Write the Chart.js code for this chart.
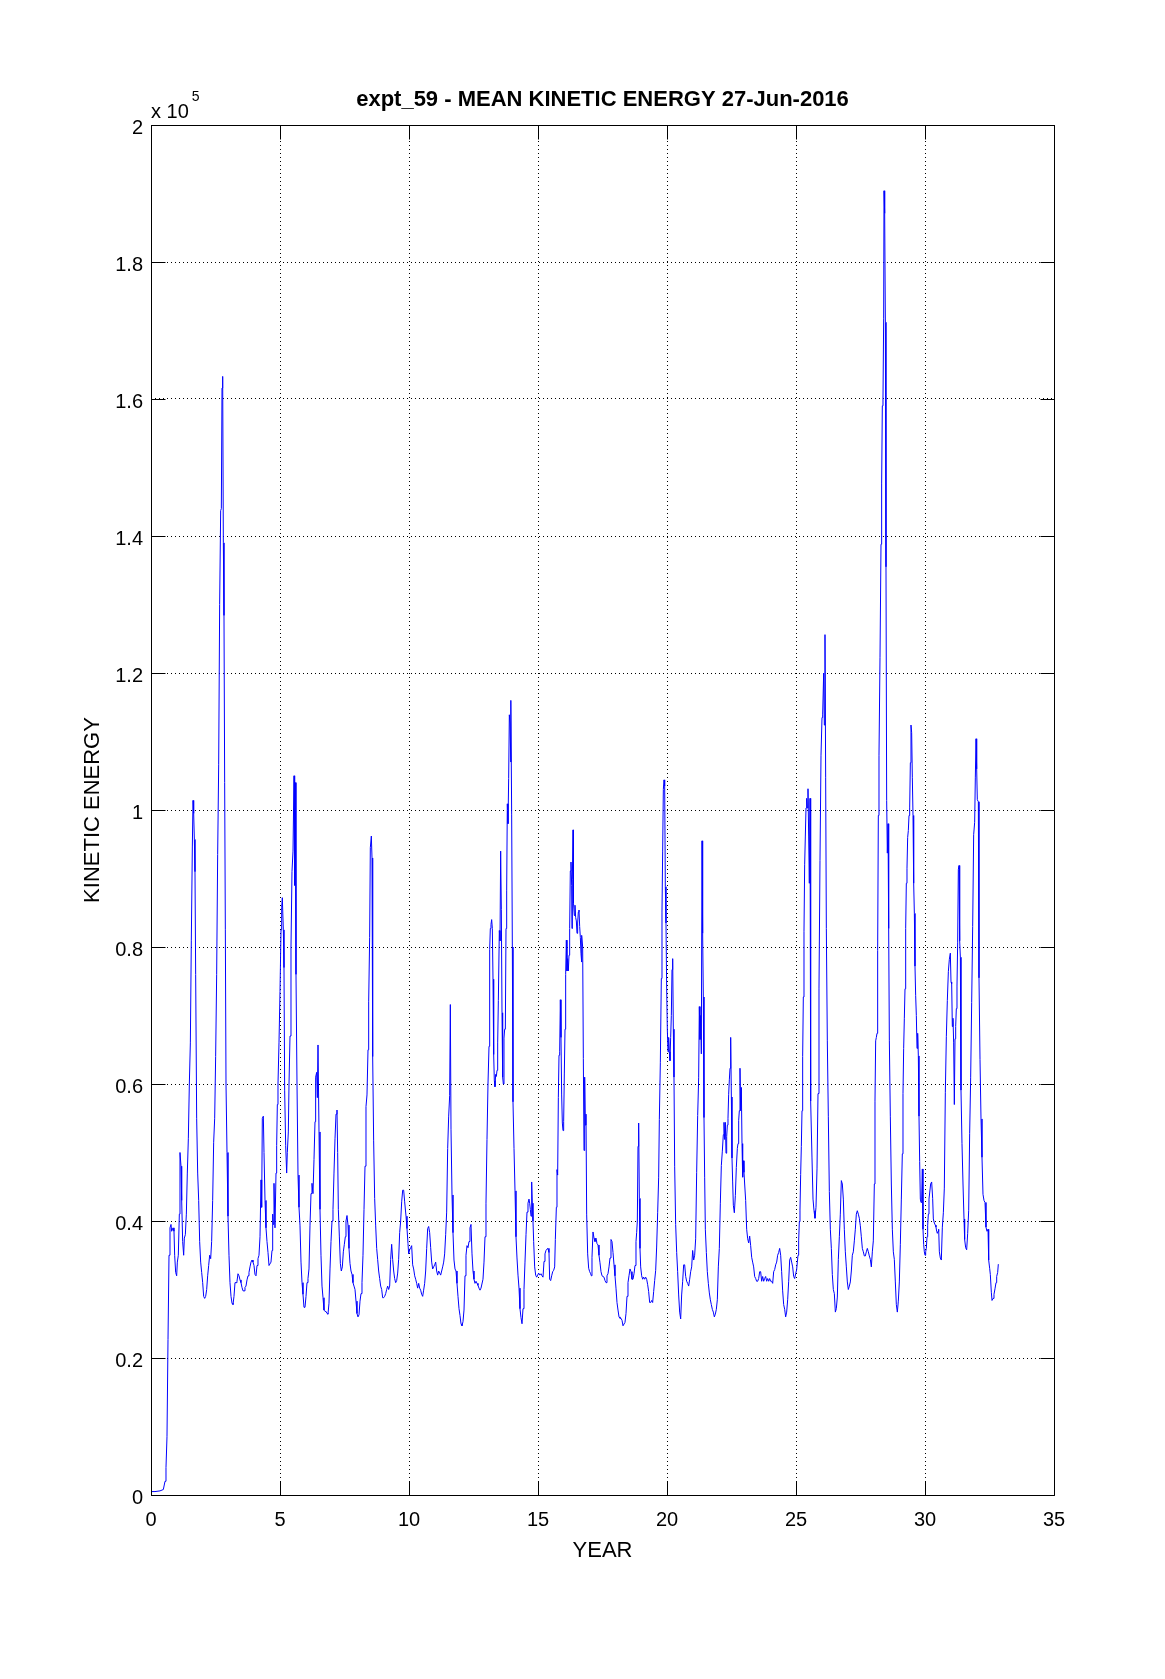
<!DOCTYPE html>
<html>
<head>
<meta charset="utf-8">
<title>expt_59 - MEAN KINETIC ENERGY</title>
<script src="https://cdn.jsdelivr.net/npm/chart.js@4/dist/chart.umd.min.js"></script>
<style>
    html, body { margin: 0; padding: 0; background: #ffffff; }
</style>
</head>
<body>
<canvas id="chartKE" width="1165" height="1679"></canvas>
<script>
// model year of each sample
const years = [
    0.000, 0.155, 0.349, 0.478, 0.543, 0.581, 0.620, 0.659, 0.698, 0.736,
    0.775, 0.801, 0.853, 0.891, 0.917, 0.956, 0.995, 1.021, 1.059, 1.098,
    1.124, 1.163, 1.189, 1.227, 1.266, 1.292, 1.331, 1.370, 1.408, 1.447,
    1.486, 1.525, 1.563, 1.602, 1.628, 1.654, 1.680, 1.705, 1.731, 1.770,
    1.809, 1.848, 1.886, 1.925, 1.964, 2.003, 2.041, 2.080, 2.119, 2.158,
    2.196, 2.235, 2.274, 2.313, 2.351, 2.390, 2.429, 2.468, 2.506, 2.545,
    2.584, 2.623, 2.661, 2.700, 2.726, 2.752, 2.778, 2.804, 2.829, 2.855,
    2.881, 2.907, 2.946, 2.984, 3.023, 3.062, 3.101, 3.140, 3.178, 3.217,
    3.256, 3.295, 3.333, 3.372, 3.411, 3.450, 3.488, 3.527, 3.566, 3.605,
    3.643, 3.682, 3.721, 3.760, 3.798, 3.837, 3.876, 3.915, 3.953, 3.992,
    4.031, 4.070, 4.109, 4.147, 4.186, 4.225, 4.264, 4.289, 4.315, 4.354,
    4.380, 4.419, 4.457, 4.496, 4.535, 4.574, 4.612, 4.651, 4.690, 4.716,
    4.742, 4.767, 4.806,
    4.845, 4.871, 4.897, 4.922, 4.961, 5.000, 5.039, 5.065, 5.090, 5.129,
    5.155, 5.181, 5.220, 5.258, 5.284, 5.323, 5.349, 5.388, 5.426, 5.465,
    5.504, 5.543, 5.568, 5.594, 5.620, 5.659, 5.698, 5.736, 5.775, 5.814,
    5.853, 5.891, 5.930, 5.969, 6.008, 6.047, 6.085, 6.124, 6.163, 6.202,
    6.240, 6.279, 6.318, 6.357, 6.382, 6.421, 6.447, 6.473, 6.512, 6.550,
    6.589, 6.628, 6.667, 6.705, 6.744, 6.783, 6.822, 6.860, 6.899, 6.938,
    6.977, 7.016, 7.054, 7.093, 7.132, 7.171, 7.209, 7.235, 7.261, 7.300,
    7.339, 7.377, 7.416, 7.455, 7.494, 7.532, 7.558, 7.597, 7.636, 7.674,
    7.713, 7.752, 7.791, 7.829, 7.868, 7.907, 7.946, 7.984, 8.023, 8.062,
    8.101, 8.140, 8.178, 8.217, 8.256, 8.295, 8.333, 8.372, 8.411, 8.437,
    8.475, 8.501, 8.540, 8.566, 8.592, 8.630, 8.669, 8.708, 8.747, 8.785,
    8.824, 8.863, 8.902, 8.941, 8.979, 9.018, 9.057, 9.096, 9.134, 9.173,
    9.212, 9.251, 9.289, 9.328, 9.367, 9.406, 9.444, 9.483, 9.522, 9.561,
    9.599, 9.638, 9.677, 9.716, 9.755, 9.793, 9.832,
    9.884, 9.922, 9.961, 9.987, 10.026, 10.065, 10.103, 10.142, 10.181, 10.220,
    10.258, 10.297, 10.336, 10.375, 10.413, 10.452, 10.491, 10.530, 10.568, 10.607,
    10.646, 10.685, 10.724, 10.762, 10.801, 10.840, 10.879, 10.917, 10.956, 10.995,
    11.034, 11.072, 11.111, 11.150, 11.189, 11.227, 11.266, 11.305, 11.344, 11.382,
    11.421, 11.460, 11.499, 11.537, 11.576, 11.602, 11.628, 11.667, 11.705, 11.744,
    11.783, 11.822, 11.860, 11.899, 11.938, 11.977, 12.016, 12.054, 12.093, 12.132,
    12.171, 12.209, 12.248, 12.287, 12.326, 12.364, 12.403, 12.442, 12.481, 12.519,
    12.558, 12.597, 12.636, 12.674, 12.713, 12.752, 12.791, 12.829, 12.868, 12.907,
    12.946, 12.984, 13.023, 13.062, 13.101, 13.127, 13.152, 13.178, 13.204, 13.230,
    13.256, 13.282, 13.307, 13.333, 13.359, 13.385, 13.411, 13.437, 13.463, 13.501,
    13.527, 13.553, 13.579, 13.605, 13.630, 13.656, 13.682, 13.708, 13.734, 13.760,
    13.786, 13.811, 13.837, 13.863, 13.889, 13.915, 13.941, 13.953, 13.979, 14.005,
    14.031, 14.070, 14.109, 14.147, 14.186, 14.225, 14.264, 14.302, 14.341, 14.380,
    14.419, 14.457, 14.496, 14.535, 14.574, 14.612, 14.651, 14.677, 14.703, 14.729,
    14.755, 14.780, 14.806, 14.832, 14.871, 14.910, 14.948, 14.987, 15.026, 15.065,
    15.116, 15.155, 15.194, 15.233, 15.271, 15.310, 15.349, 15.388, 15.426, 15.452,
    15.491, 15.530, 15.569, 15.607, 15.646, 15.672, 15.711, 15.736, 15.762, 15.788,
    15.814, 15.840, 15.866, 15.891, 15.917, 15.943, 15.969, 15.995, 16.021, 16.047,
    16.072, 16.098, 16.124, 16.150, 16.176, 16.202, 16.227, 16.253, 16.279, 16.305,
    16.318, 16.331, 16.357, 16.370, 16.382, 16.408, 16.434, 16.460, 16.486, 16.512,
    16.537, 16.563, 16.589, 16.615, 16.641, 16.667, 16.680, 16.705, 16.731, 16.757,
    16.783, 16.809, 16.835, 16.860, 16.886, 16.925, 16.964, 17.003, 17.041, 17.067,
    17.093, 17.132, 17.171, 17.209, 17.248, 17.287, 17.326, 17.364, 17.403, 17.442,
    17.481, 17.519, 17.558, 17.597, 17.636, 17.674, 17.713, 17.752, 17.791, 17.829,
    17.868, 17.907, 17.946, 17.984, 18.023, 18.062, 18.101, 18.140, 18.178, 18.217,
    18.256, 18.295, 18.333, 18.372, 18.411, 18.450, 18.488, 18.527, 18.566, 18.605,
    18.643, 18.682, 18.721, 18.760, 18.798, 18.824, 18.850, 18.876, 18.902, 18.928,
    18.953, 18.979, 19.018, 19.057, 19.096, 19.134, 19.173, 19.212, 19.251, 19.289,
    19.328, 19.367, 19.406, 19.444, 19.483, 19.522, 19.561, 19.599, 19.638, 19.677,
    19.703, 19.742, 19.780, 19.806, 19.832, 19.858, 19.884, 19.910, 19.935, 19.961,
    19.987, 20.013, 20.039, 20.065, 20.090, 20.116, 20.142, 20.168, 20.194, 20.220,
    20.245, 20.271, 20.297,
    20.336, 20.375, 20.413, 20.452, 20.491, 20.530, 20.568, 20.607, 20.646, 20.685,
    20.724, 20.762, 20.801, 20.840, 20.879, 20.917, 20.956, 20.995, 21.034, 21.072,
    21.111, 21.150, 21.189, 21.227, 21.253, 21.279, 21.305, 21.331, 21.357, 21.382,
    21.408, 21.434, 21.460, 21.486, 21.525, 21.563, 21.602, 21.641, 21.680, 21.718,
    21.757, 21.796, 21.835, 21.873, 21.912, 21.951, 21.990, 22.028, 22.067, 22.106,
    22.145, 22.183, 22.209, 22.235, 22.261, 22.287, 22.313, 22.339, 22.364, 22.390,
    22.416, 22.442, 22.468, 22.494, 22.519, 22.545, 22.571, 22.610, 22.649, 22.687,
    22.726, 22.752, 22.778, 22.804, 22.829, 22.855, 22.881, 22.907, 22.933, 22.959,
    22.984, 23.010, 23.049, 23.088, 23.127, 23.165, 23.204, 23.243, 23.282, 23.320,
    23.359, 23.398, 23.437, 23.475, 23.514, 23.553, 23.592, 23.630, 23.669, 23.708,
    23.747, 23.785, 23.824, 23.863, 23.902, 23.941, 23.979, 24.018, 24.057, 24.096,
    24.134, 24.173, 24.212, 24.251, 24.289, 24.328, 24.367, 24.406, 24.444, 24.483,
    24.522, 24.561, 24.599, 24.638, 24.677, 24.716, 24.755, 24.793, 24.832, 24.871,
    24.910, 24.948, 24.987, 25.026, 25.052, 25.078, 25.103, 25.129, 25.155, 25.181,
    25.207, 25.233, 25.258, 25.284, 25.310, 25.336, 25.362, 25.388, 25.413, 25.439,
    25.465, 25.491, 25.517, 25.543,
    25.556, 25.581, 25.620, 25.659, 25.698, 25.736, 25.775, 25.814, 25.853, 25.891,
    25.930, 25.969, 26.008, 26.034, 26.072, 26.098, 26.124, 26.150, 26.176, 26.214,
    26.253, 26.292, 26.331, 26.370, 26.408, 26.447, 26.486, 26.525, 26.563, 26.602,
    26.641, 26.680, 26.718, 26.757, 26.796, 26.835, 26.873, 26.912, 26.951, 26.990,
    27.028, 27.067, 27.106, 27.145, 27.183, 27.222, 27.261, 27.300, 27.338, 27.377,
    27.416, 27.455, 27.493, 27.532, 27.571, 27.610, 27.648, 27.687, 27.726, 27.765,
    27.804, 27.842, 27.881, 27.920, 27.959, 27.997, 28.036, 28.062, 28.088, 28.114,
    28.140, 28.165, 28.191, 28.217, 28.256, 28.295, 28.320, 28.346, 28.372, 28.398,
    28.411, 28.437, 28.463, 28.488, 28.514, 28.540, 28.566, 28.592, 28.618, 28.656,
    28.695, 28.734, 28.773, 28.811, 28.850, 28.889, 28.928, 28.966, 29.005, 29.044,
    29.083, 29.121, 29.147, 29.173, 29.199, 29.225, 29.251, 29.276, 29.302, 29.328,
    29.354, 29.380, 29.406, 29.432, 29.457, 29.483, 29.509, 29.535, 29.561, 29.587,
    29.612, 29.638, 29.664, 29.690, 29.716, 29.742, 29.767, 29.793, 29.819, 29.845,
    29.871, 29.897, 29.922, 29.948, 29.974, 30.000, 30.026, 30.052, 30.078, 30.103,
    30.129, 30.155,
    30.219, 30.258, 30.297, 30.323, 30.362, 30.400, 30.426, 30.452, 30.478, 30.504,
    30.530, 30.556, 30.594, 30.633, 30.672, 30.711, 30.749, 30.788, 30.827, 30.866,
    30.905, 30.943, 30.982, 31.008, 31.034, 31.059, 31.085, 31.111, 31.137, 31.163,
    31.189, 31.214, 31.240, 31.266, 31.292, 31.318, 31.344, 31.370, 31.395, 31.434,
    31.473, 31.512, 31.537, 31.576, 31.615, 31.654, 31.693, 31.731, 31.770, 31.809,
    31.848, 31.886, 31.925, 31.951, 31.977, 32.003, 32.028, 32.067, 32.093, 32.132,
    32.171, 32.209, 32.248, 32.287, 32.326, 32.364, 32.403, 32.442, 32.468, 32.506,
    32.532, 32.571, 32.597, 32.636, 32.674, 32.713, 32.752, 32.778, 32.817, 32.842
];

// mean kinetic energy, in units of 10^5
const keE5 = [
    0.005, 0.005, 0.006, 0.008, 0.020, 0.040, 0.085, 0.227, 0.350, 0.390,
    0.395, 0.385, 0.390, 0.385, 0.350, 0.325, 0.320, 0.340, 0.350, 0.410,
    0.500, 0.480, 0.430, 0.370, 0.350, 0.375, 0.380, 0.410, 0.470, 0.520,
    0.600, 0.660, 0.810, 0.946, 1.014, 0.995, 0.957, 0.910, 0.760, 0.550,
    0.470, 0.430, 0.370, 0.340, 0.325, 0.310, 0.290, 0.287, 0.290, 0.300,
    0.320, 0.335, 0.350, 0.345, 0.370, 0.430, 0.515, 0.550, 0.640, 0.760,
    0.935, 1.066, 1.300, 1.437, 1.440, 1.616, 1.633, 1.390, 1.284, 1.040,
    0.826, 0.600, 0.500, 0.407, 0.350, 0.310, 0.290, 0.280, 0.278, 0.290,
    0.310, 0.310, 0.312, 0.323, 0.320, 0.314, 0.310, 0.303, 0.298, 0.298,
    0.303, 0.305, 0.314, 0.320, 0.325, 0.333, 0.340, 0.343, 0.340, 0.335,
    0.322, 0.320, 0.335, 0.345, 0.350, 0.377, 0.460, 0.420, 0.550, 0.553,
    0.500, 0.430, 0.390, 0.370, 0.354, 0.335, 0.335, 0.340, 0.357, 0.410,
    0.395, 0.455, 0.390,
    0.470, 0.510, 0.570, 0.600, 0.660, 0.735, 0.825, 0.858, 0.872, 0.825,
    0.770, 0.590, 0.510, 0.470, 0.500, 0.530, 0.600, 0.670, 0.800, 0.910,
    0.940, 1.050, 0.890, 1.040, 0.760, 0.600, 0.467, 0.420, 0.394, 0.340,
    0.310, 0.293, 0.274, 0.274, 0.290, 0.310, 0.316, 0.330, 0.394, 0.440,
    0.455, 0.440, 0.490, 0.545, 0.610, 0.617, 0.580, 0.657, 0.530, 0.417,
    0.350, 0.305, 0.288, 0.270, 0.268, 0.268, 0.265, 0.264, 0.280, 0.330,
    0.370, 0.400, 0.417, 0.470, 0.520, 0.556, 0.562, 0.500, 0.417, 0.378,
    0.338, 0.327, 0.333, 0.355, 0.366, 0.377, 0.400, 0.408, 0.394, 0.360,
    0.338, 0.327, 0.322, 0.310, 0.305, 0.300, 0.283, 0.265, 0.260, 0.263,
    0.283, 0.294, 0.310, 0.350, 0.417, 0.480, 0.567, 0.584, 0.650, 0.720,
    0.814, 0.945, 0.962, 0.930, 0.640, 0.517, 0.433, 0.394, 0.360, 0.344,
    0.327, 0.316, 0.305, 0.300, 0.288, 0.288, 0.290, 0.294, 0.300, 0.305,
    0.300, 0.305, 0.344, 0.366, 0.344, 0.327, 0.316, 0.310, 0.313, 0.324,
    0.344, 0.383, 0.400, 0.428, 0.445, 0.445, 0.428,
    0.407, 0.389, 0.367, 0.352, 0.358, 0.361, 0.364, 0.336, 0.330, 0.320,
    0.315, 0.309, 0.302, 0.309, 0.302, 0.299, 0.293, 0.290, 0.299, 0.309,
    0.327, 0.360, 0.389, 0.392, 0.383, 0.361, 0.340, 0.330, 0.333, 0.336,
    0.340, 0.327, 0.321, 0.327, 0.324, 0.321, 0.327, 0.333, 0.340, 0.352,
    0.380, 0.413, 0.506, 0.552, 0.583, 0.716, 0.534, 0.438, 0.383, 0.343,
    0.330, 0.327, 0.309, 0.290, 0.272, 0.262, 0.250, 0.247, 0.253, 0.270,
    0.320, 0.350, 0.364, 0.361, 0.370, 0.390, 0.395, 0.352, 0.327, 0.315,
    0.309, 0.312, 0.309, 0.306, 0.302, 0.299, 0.302, 0.302, 0.315, 0.340,
    0.377, 0.426, 0.519, 0.600, 0.655, 0.796, 0.827, 0.833, 0.840, 0.827,
    0.753, 0.643, 0.605, 0.596, 0.614, 0.611, 0.620, 0.660, 0.722, 0.824,
    0.809, 0.940, 0.855, 0.704, 0.610, 0.600, 0.667, 0.680, 0.680, 0.827,
    0.883, 1.009, 0.980, 1.046, 1.139, 1.127, 1.070, 1.160, 0.994, 0.800,
    0.574, 0.506, 0.444, 0.377, 0.346, 0.321, 0.302, 0.272, 0.259, 0.250,
    0.272, 0.300, 0.340, 0.380, 0.413, 0.426, 0.432, 0.426, 0.417, 0.407,
    0.457, 0.426, 0.400, 0.370, 0.333, 0.321, 0.318, 0.321, 0.324, 0.321,
    0.323, 0.320, 0.318, 0.341, 0.352, 0.357, 0.359, 0.360, 0.354, 0.315,
    0.313, 0.320, 0.326, 0.328, 0.333, 0.373, 0.420, 0.475, 0.467, 0.580,
    0.642, 0.647, 0.723, 0.668, 0.584, 0.543, 0.532, 0.545, 0.616, 0.680,
    0.760, 0.810, 0.765, 0.783, 0.765, 0.788, 0.827, 0.911, 0.924, 0.890,
    0.827, 0.898, 0.971, 0.893, 0.864, 0.846, 0.861, 0.843, 0.838, 0.820,
    0.835, 0.851, 0.854, 0.830, 0.814, 0.790, 0.778, 0.817, 0.800, 0.637,
    0.503, 0.610, 0.540, 0.556, 0.410, 0.352, 0.331, 0.326, 0.323, 0.320,
    0.347, 0.384, 0.375, 0.370, 0.375, 0.367, 0.365, 0.350, 0.339, 0.326,
    0.320, 0.320, 0.318, 0.313, 0.310, 0.320, 0.323, 0.333, 0.346, 0.373,
    0.370, 0.354, 0.336, 0.320, 0.302, 0.281, 0.270, 0.260, 0.258, 0.258,
    0.255, 0.247, 0.247, 0.252, 0.265, 0.290, 0.310, 0.320, 0.330, 0.326,
    0.315, 0.315, 0.323, 0.335, 0.370, 0.383, 0.400, 0.509, 0.543, 0.433,
    0.360, 0.333, 0.320, 0.315, 0.318, 0.315, 0.318, 0.315, 0.307, 0.297,
    0.281, 0.281, 0.284, 0.281, 0.297, 0.313, 0.328, 0.362, 0.412, 0.464,
    0.548, 0.631, 0.754, 0.851, 0.940, 1.030, 1.044, 1.035, 0.888, 0.835,
    0.740, 0.679, 0.647, 0.668, 0.647, 0.634, 0.668, 0.700, 0.767, 0.783,
    0.680, 0.610, 0.480,
    0.395, 0.354, 0.326, 0.292, 0.267, 0.257, 0.292, 0.312, 0.336, 0.336,
    0.319, 0.312, 0.309, 0.305, 0.315, 0.326, 0.333, 0.357, 0.343, 0.350,
    0.374, 0.471, 0.554, 0.609, 0.713, 0.665, 0.700, 0.644, 0.955, 0.820,
    0.727, 0.551, 0.464, 0.388, 0.354, 0.326, 0.309, 0.295, 0.285, 0.278,
    0.271, 0.267, 0.260, 0.264, 0.271, 0.285, 0.333, 0.360, 0.426, 0.481,
    0.502, 0.526, 0.544, 0.519, 0.544, 0.499, 0.523, 0.540, 0.550, 0.585,
    0.606, 0.623, 0.668, 0.581, 0.492, 0.457, 0.423, 0.412, 0.437, 0.478,
    0.506, 0.513, 0.547, 0.561, 0.623, 0.561, 0.595, 0.513, 0.464, 0.488,
    0.471, 0.454, 0.430, 0.388, 0.374, 0.368, 0.378, 0.364, 0.347, 0.340,
    0.333, 0.319, 0.316, 0.312, 0.312, 0.316, 0.326, 0.326, 0.312, 0.319,
    0.312, 0.316, 0.319, 0.312, 0.316, 0.312, 0.316, 0.312, 0.312, 0.309,
    0.326, 0.329, 0.336, 0.340, 0.350, 0.354, 0.360, 0.350, 0.326, 0.298,
    0.278, 0.271, 0.260, 0.267, 0.285, 0.312, 0.343, 0.347, 0.340, 0.333,
    0.319, 0.316, 0.323, 0.329, 0.340, 0.350, 0.371, 0.399, 0.416, 0.468,
    0.509, 0.561, 0.640, 0.727, 0.823, 0.920, 0.962, 1.003, 1.017, 1.003,
    1.031, 0.962, 0.893, 1.017,
    0.805, 0.575, 0.492, 0.432, 0.415, 0.404, 0.420, 0.476, 0.586, 0.740,
    0.926, 1.080, 1.135, 1.140, 1.200, 1.124, 1.256, 1.047, 0.827, 0.663,
    0.553, 0.443, 0.388, 0.360, 0.322, 0.300, 0.294, 0.267, 0.272, 0.289,
    0.344, 0.377, 0.410, 0.459, 0.454, 0.432, 0.388, 0.355, 0.333, 0.311,
    0.300, 0.305, 0.311, 0.327, 0.350, 0.355, 0.371, 0.388, 0.410, 0.415,
    0.410, 0.404, 0.393, 0.377, 0.360, 0.355, 0.349, 0.349, 0.355, 0.360,
    0.355, 0.349, 0.344, 0.333, 0.355, 0.371, 0.454, 0.575, 0.663, 0.668,
    0.674, 0.795, 0.992, 1.080, 1.223, 1.388, 1.476, 1.590, 1.600, 1.718,
    1.904, 1.871, 1.712, 1.355, 1.014, 0.937, 0.980, 0.827, 0.663, 0.553,
    0.454, 0.388, 0.355, 0.344, 0.311, 0.278, 0.267, 0.283, 0.311, 0.366,
    0.432, 0.498, 0.586, 0.652, 0.696, 0.739, 0.827, 0.893, 0.915, 0.960,
    0.970, 0.992, 1.003, 1.069, 1.124, 1.113, 1.047, 0.992, 0.893, 0.849,
    0.772, 0.729, 0.700, 0.652, 0.674, 0.641, 0.553, 0.487, 0.432, 0.427,
    0.432, 0.476, 0.388, 0.366, 0.355, 0.350, 0.355, 0.360, 0.377, 0.393,
    0.410, 0.432,
    0.454, 0.457, 0.433, 0.403, 0.397, 0.394, 0.391, 0.385, 0.382, 0.385,
    0.388, 0.355, 0.346, 0.343, 0.391, 0.412, 0.448, 0.588, 0.669, 0.722,
    0.764, 0.782, 0.791, 0.749, 0.746, 0.684, 0.696, 0.660, 0.570, 0.666,
    0.684, 0.710, 0.743, 0.806, 0.913, 0.919, 0.809, 0.785, 0.591, 0.513,
    0.454, 0.403, 0.373, 0.361, 0.358, 0.382, 0.415, 0.528, 0.609, 0.719,
    0.830, 0.964, 0.982, 1.048, 1.104, 1.060, 1.015, 1.012, 0.755, 0.636,
    0.549, 0.493, 0.439, 0.430, 0.427, 0.391, 0.385, 0.388, 0.343, 0.331,
    0.322, 0.296, 0.284, 0.287, 0.293, 0.301, 0.310, 0.319, 0.325, 0.337
];

const xTicks = [0, 5, 10, 15, 20, 25, 30, 35];
const xTickLabels = ["0", "5", "10", "15", "20", "25", "30", "35"];
const yTicks = [0, 0.2, 0.4, 0.6, 0.8, 1.0, 1.2, 1.4, 1.6, 1.8, 2.0];
const yTickLabels = ["0", "0.2", "0.4", "0.6", "0.8", "1", "1.2", "1.4", "1.6", "1.8", "2"];

const TICK_LEN = 14;
const FONT = '"Liberation Sans", Arial, Helvetica, sans-serif';

Chart.defaults.font.family = FONT;
Chart.defaults.color = "#000000";

// matlab style frame: full box, inward ticks on all sides, exponent note
const matlabFrame = {
    id: "matlabFrame",
    afterDatasetsDraw(chart) {
        const ctx = chart.ctx;
        const a = chart.chartArea;
        const xs = chart.scales.x;
        const ys = chart.scales.y;
        const l = Math.round(a.left) + 0.5, r = Math.round(a.right) + 0.5;
        const t = Math.round(a.top) + 0.5, b = Math.round(a.bottom) + 0.5;
        ctx.save();
        ctx.strokeStyle = "#000000";
        ctx.lineWidth = 1;
        ctx.beginPath();
        ctx.rect(l, t, r - l, b - t);
        xTicks.forEach(function (v) {
            const px = Math.round(xs.getPixelForValue(v)) + 0.5;
            ctx.moveTo(px, b); ctx.lineTo(px, b - TICK_LEN);
            ctx.moveTo(px, t); ctx.lineTo(px, t + TICK_LEN);
        });
        yTicks.forEach(function (v) {
            const py = Math.round(ys.getPixelForValue(v)) + 0.5;
            ctx.moveTo(l, py); ctx.lineTo(l + TICK_LEN, py);
            ctx.moveTo(r, py); ctx.lineTo(r - TICK_LEN, py);
        });
        ctx.stroke();

        ctx.fillStyle = "#000000";
        ctx.textBaseline = "alphabetic";
        ctx.textAlign = "left";
        ctx.font = "20px " + FONT;
        ctx.fillText("x 10", a.left, a.top - 7);
        const w = ctx.measureText("x 10").width;
        ctx.font = "14px " + FONT;
        ctx.fillText("5", a.left + w + 3, a.top - 24);
        ctx.restore();
    }
};

var ctxKE = document.getElementById("chartKE").getContext("2d");
var chartKE = new Chart(ctxKE, {
    type: "line",
    data: {
        datasets: [
            {
                label: "KINETIC ENERGY",
                data: years.map((yr, i) => ({ x: yr, y: keE5[i] })),
                borderColor: "#0000ff",
                backgroundColor: "#0000ff",
                borderWidth: 1,
                pointRadius: 0,
                tension: 0,
                fill: false,
            },
        ],
    },
    options: {
        responsive: false,
        animation: false,
        layout: { padding: { top: 0, left: 0, right: 111, bottom: 104 } },
        plugins: {
            legend: { display: false },
            tooltip: { enabled: false },
            title: {
                display: true,
                text: "expt_59 - MEAN KINETIC ENERGY 27-Jun-2016",
                fullSize: false,
                color: "#000000",
                font: { size: 22, weight: "bold" },
                padding: { top: 86.3, bottom: 12.3 },
            },
        },
        scales: {
            x: {
                type: "linear",
                min: 0,
                max: 35,
                afterBuildTicks: (s) => { s.ticks = xTicks.map((v) => ({ value: v })); },
                afterFit: (s) => { s.height = 80; },
                ticks: {
                    autoSkip: false,
                    maxRotation: 0,
                    padding: 13,
                    font: { size: 20 },
                    color: "#000000",
                    callback: (v, i) => xTickLabels[i],
                },
                grid: { color: "#000000", lineWidth: 1, drawTicks: false },
                border: { display: false, dash: [1, 3] },
                title: {
                    display: true,
                    text: "YEAR",
                    color: "#000000",
                    font: { size: 22 },
                    padding: { top: 0, bottom: 10.8 },
                },
            },
            y: {
                type: "linear",
                min: 0,
                max: 2,
                afterBuildTicks: (s) => { s.ticks = yTicks.map((v) => ({ value: v })); },
                afterFit: (s) => { s.width = 151; },
                ticks: {
                    autoSkip: false,
                    padding: 8,
                    labelOffset: 3,
                    font: { size: 20 },
                    color: "#000000",
                    callback: (v, i) => yTickLabels[i],
                },
                grid: { color: "#000000", lineWidth: 1, drawTicks: false },
                border: { display: false, dash: [1, 3] },
                title: {
                    display: true,
                    text: "KINETIC ENERGY",
                    color: "#000000",
                    font: { size: 22 },
                    padding: { top: 80, bottom: 0 },
                },
            },
        },
    },
    plugins: [matlabFrame],
});
</script>
</body>
</html>
